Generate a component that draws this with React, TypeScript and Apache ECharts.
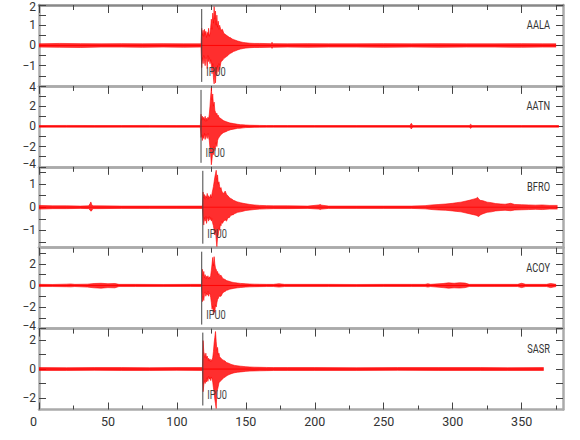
import React, { useEffect, useRef } from "react";
import * as echarts from "echarts";

// ---------- data ----------
const stations = ["AALA", "AATN", "BFRO", "ACOY", "SASR"];
const pickTimes = [118, 117.5, 118.8, 118, 118.8];
const pickLabel = "IPU0";

const xMax = 380;
const xLabelValues = [0, 50, 100, 150, 200, 250, 300, 350];
const xMajorTicks = [0, 50, 100, 150, 200, 250, 300, 350];
const xMinorTicks = [25, 75, 125, 175, 225, 275, 325, 375];

const yMins = [-2, -4, -1.75, -4, -2.8];
const yMaxs = [2, 4, 1.75, 3.5, 2.8];
const yTickValues = [
  [-2, -1.5, -1, -0.5, 0, 0.5, 1, 1.5, 2],
  [-4, -3, -2, -1, 0, 1, 2, 3, 4],
  [-1.5, -1, -0.5, 0, 0.5, 1, 1.5],
  [-4, -3, -2, -1, 0, 1, 2, 3],
  [-2, -1, 0, 1, 2],
];
const yLabelValues = [
  [-1, 0, 1, 2],
  [-4, -2, 0, 2, 4],
  [-1, 0, 1],
  [-4, -2, 0, 2],
  [-2, 0, 2],
];

// AALA envelope (time s, upper, lower)
const aalaT = [0, 15, 30, 45, 60, 75, 90, 105, 117.5,
  118, 118.5, 119, 119.5, 120, 120.5, 121, 121.5, 122, 122.5, 123, 123.5, 124, 124.5, 125, 125.5, 126, 126.5, 127, 127.5, 128, 128.5, 129, 129.5, 130, 130.5, 131,
  132, 133, 134, 135, 136, 137, 138, 139, 140, 141, 142,
  144, 146, 148, 150,
  153, 156, 160, 168, 169, 170, 180,
  195, 210, 230, 250, 270, 290, 310, 330, 350, 365, 375];
const aalaUp = [0.08, 0.1, 0.09, 0.08, 0.09, 0.08, 0.09, 0.08, 0.08,
  0.85, 0.5, 0.75, 0.45, 0.8, 0.55, 0.7, 0.4, 0.65, 0.5, 0.85, 0.45, 0.6, 0.9, 1.3, 0.8, 1.6, 1.1, 1.92, 1.3, 1.7, 1.0, 1.5, 0.9, 1.2, 0.8, 1.0,
  0.75, 0.8, 0.6, 0.55, 0.5, 0.45, 0.4, 0.38, 0.32, 0.3, 0.27,
  0.22, 0.18, 0.15, 0.13,
  0.11, 0.1, 0.1, 0.09, 0.15, 0.09, 0.08,
  0.09, 0.08, 0.08, 0.09, 0.08, 0.09, 0.08, 0.08, 0.09, 0.08, 0.08];
const aalaDn = [-0.08, -0.09, -0.1, -0.08, -0.08, -0.09, -0.08, -0.09, -0.08,
  -1.1, -0.6, -0.9, -0.5, -0.8, -1.0, -0.6, -0.7, -1.15, -0.5, -0.8, -0.6, -0.9, -0.7, -1.0, -1.4, -0.9, -1.6, -1.9, -1.2, -1.85, -1.1, -1.5, -1.0, -1.3, -0.9, -1.2,
  -0.8, -0.75, -0.65, -0.6, -0.55, -0.5, -0.42, -0.38, -0.35, -0.3, -0.28,
  -0.22, -0.18, -0.15, -0.13,
  -0.11, -0.1, -0.1, -0.09, -0.14, -0.09, -0.08,
  -0.09, -0.08, -0.08, -0.09, -0.08, -0.09, -0.08, -0.08, -0.09, -0.08, -0.08];

// AATN
const aatnT = [0, 20, 40, 60, 80, 100, 117,
  117.5, 118, 118.5, 119, 119.5, 120, 120.5, 121, 121.5, 122, 122.5, 123, 123.5, 124, 124.5, 125, 125.5, 126, 126.5, 127, 127.5, 128, 128.5, 129, 129.5, 130, 130.5, 131,
  132, 133, 134, 135, 136, 137, 138, 139, 140, 141, 142,
  144, 146, 148, 150, 153, 156, 160, 165, 170, 180,
  200, 230, 269, 270, 271, 312, 313, 314, 330, 350, 377];
const aatnUp = [0.08, 0.09, 0.08, 0.08, 0.09, 0.08, 0.08,
  1.2, 0.6, 1.0, 0.7, 0.9, 0.6, 1.0, 0.5, 0.8, 0.6, 0.9, 0.7, 1.2, 2.0, 3.0, 3.8, 2.6, 3.2, 2.0, 2.4, 1.6, 1.4, 1.2, 1.3, 1.0, 1.1, 0.9, 0.85,
  0.75, 0.65, 0.55, 0.5, 0.45, 0.4, 0.35, 0.32, 0.3, 0.27, 0.25,
  0.2, 0.17, 0.15, 0.13, 0.11, 0.1, 0.09, 0.08, 0.08, 0.08,
  0.08, 0.08, 0.08, 0.3, 0.08, 0.08, 0.2, 0.08, 0.08, 0.08, 0.08];
const aatnDn = [-0.08, -0.08, -0.09, -0.08, -0.08, -0.09, -0.08,
  -1.1, -0.8, -1.4, -0.9, -1.2, -0.7, -1.3, -0.8, -1.0, -1.2, -0.7, -1.1, -1.4, -2.2, -2.8, -3.8, -3.2, -2.5, -2.8, -2.0, -2.4, -2.1, -1.6, -2.0, -1.4, -1.2, -1.1, -1.0,
  -0.8, -0.7, -0.6, -0.55, -0.5, -0.42, -0.38, -0.33, -0.3, -0.28, -0.25,
  -0.2, -0.18, -0.15, -0.12, -0.11, -0.1, -0.09, -0.08, -0.08, -0.08,
  -0.08, -0.08, -0.08, -0.25, -0.08, -0.08, -0.2, -0.08, -0.08, -0.08, -0.08];

// BFRO
const bfroT = [0, 10, 20, 30, 36, 37, 37.6, 38.2, 39, 42, 60, 80, 100, 118.5,
  119, 119.5, 120, 120.5, 121, 121.5, 122, 122.5, 123, 123.5, 124, 124.5, 125, 125.5, 126, 126.5, 127, 127.5, 128, 128.5, 129, 129.5, 130, 130.5, 131, 131.5, 132, 132.5, 133,
  134, 135, 136, 137, 138, 139, 140, 141, 142, 143, 144,
  146, 148, 150, 153, 156, 160, 165, 170, 180, 195, 203, 204, 205, 210, 230, 250, 270,
  280, 285, 290, 295, 300, 303, 306, 309, 312, 315, 317, 318, 319, 320, 322, 325, 328, 331, 335, 338, 342, 345, 350, 355, 360, 365, 370, 376];
const bfroUp = [0.08, 0.06, 0.06, 0.05, 0.06, 0.15, 0.23, 0.12, 0.06, 0.06, 0.05, 0.05, 0.05, 0.05,
  0.66, 0.4, 0.55, 0.35, 0.5, 0.4, 0.6, 0.35, 0.5, 0.4, 0.45, 0.55, 0.4, 0.6, 0.75, 0.9, 1.1, 1.3, 1.45, 1.6, 1.2, 1.4, 1.0, 1.1, 0.9, 0.8, 0.85, 0.7, 0.65,
  0.6, 0.7, 0.55, 0.5, 0.42, 0.38, 0.35, 0.3, 0.28, 0.25, 0.23,
  0.2, 0.17, 0.15, 0.12, 0.1, 0.08, 0.07, 0.06, 0.06, 0.05, 0.1, 0.12, 0.09, 0.05, 0.05, 0.05, 0.05,
  0.07, 0.1, 0.12, 0.14, 0.17, 0.2, 0.22, 0.26, 0.3, 0.35, 0.38, 0.43, 0.35, 0.3, 0.28, 0.22, 0.2, 0.16, 0.14, 0.13, 0.17, 0.12, 0.11, 0.1, 0.09, 0.1, 0.08, 0.08];
const bfroDn = [-0.08, -0.06, -0.06, -0.05, -0.06, -0.12, -0.17, -0.15, -0.06, -0.06, -0.05, -0.05, -0.05, -0.05,
  -0.5, -0.77, -0.45, -0.6, -0.4, -0.7, -0.5, -0.45, -0.6, -0.4, -0.55, -0.45, -0.6, -0.5, -0.7, -0.8, -1.0, -1.2, -1.0, -1.4, -1.7, -1.3, -1.2, -0.9, -1.0, -0.75, -0.8, -0.6, -0.7,
  -0.6, -0.55, -0.6, -0.45, -0.45, -0.36, -0.33, -0.32, -0.27, -0.25, -0.22,
  -0.2, -0.17, -0.14, -0.12, -0.1, -0.08, -0.07, -0.06, -0.06, -0.05, -0.08, -0.1, -0.08, -0.05, -0.05, -0.05, -0.05,
  -0.07, -0.1, -0.12, -0.13, -0.16, -0.18, -0.2, -0.24, -0.28, -0.32, -0.35, -0.38, -0.4, -0.33, -0.28, -0.22, -0.2, -0.16, -0.14, -0.13, -0.15, -0.12, -0.11, -0.1, -0.09, -0.1, -0.08, -0.08];

// ACOY
const acoyT = [0, 10, 20, 23, 26, 35, 40, 45, 50, 55, 58, 70, 90, 110, 118,
  118.5, 119, 119.5, 120, 120.5, 121, 121.5, 122, 122.5, 123, 123.5, 124, 124.5, 125, 125.5, 126, 126.5, 127, 127.5, 128, 128.5, 129, 129.5, 130, 130.5, 131,
  132, 133, 134, 135, 136, 137, 138, 139, 140, 141, 142,
  144, 146, 148, 150, 153, 156, 160, 165, 170, 174, 178, 190, 210, 230, 250, 270, 280, 282, 284, 293, 297, 301, 305, 309, 312, 330, 347, 350, 353, 368, 371, 375];
const acoyUp = [0.1, 0.09, 0.12, 0.14, 0.1, 0.12, 0.18, 0.2, 0.16, 0.18, 0.1, 0.1, 0.09, 0.1, 0.1,
  1.5, 0.9, 1.3, 0.7, 1.0, 0.6, 0.85, 0.7, 0.9, 0.6, 0.8, 0.65, 0.9, 1.4, 2.0, 2.6, 1.8, 2.67, 2.0, 1.6, 1.5, 1.2, 1.3, 1.0, 1.1, 0.9,
  0.95, 0.7, 0.6, 0.55, 0.45, 0.42, 0.38, 0.34, 0.3, 0.28, 0.26,
  0.22, 0.19, 0.17, 0.15, 0.13, 0.12, 0.11, 0.1, 0.1, 0.16, 0.1, 0.1, 0.1, 0.09, 0.1, 0.1, 0.1, 0.16, 0.1, 0.18, 0.24, 0.2, 0.25, 0.22, 0.1, 0.1, 0.1, 0.2, 0.1, 0.1, 0.18, 0.1];
const acoyDn = [-0.1, -0.1, -0.12, -0.13, -0.1, -0.15, -0.22, -0.25, -0.2, -0.22, -0.1, -0.1, -0.1, -0.09, -0.1,
  -1.5, -1.0, -1.4, -0.8, -0.6, -1.0, -0.7, -0.9, -0.55, -1.0, -0.7, -0.8, -1.1, -1.6, -2.2, -1.9, -2.7, -2.3, -2.5, -1.8, -2.0, -1.6, -1.3, -1.2, -1.0, -1.0,
  -1.0, -0.75, -0.6, -0.55, -0.45, -0.42, -0.36, -0.33, -0.3, -0.28, -0.25,
  -0.22, -0.19, -0.17, -0.15, -0.13, -0.12, -0.11, -0.1, -0.1, -0.15, -0.1, -0.1, -0.1, -0.1, -0.09, -0.1, -0.1, -0.15, -0.1, -0.2, -0.25, -0.22, -0.24, -0.2, -0.1, -0.1, -0.1, -0.2, -0.1, -0.1, -0.2, -0.1];

// SASR
const sasrT = [0, 20, 40, 60, 80, 100, 118.5,
  119, 119.5, 120, 120.5, 121, 121.5, 122, 122.5, 123, 123.5, 124, 124.5, 125, 125.5, 126, 126.5, 127, 127.5, 128, 128.5, 129, 129.5, 130, 130.5, 131, 131.5, 132,
  133, 134, 135, 136, 137, 138, 139, 140, 141, 142, 144, 146, 148, 150, 153, 156, 160, 165, 170, 180,
  200, 230, 260, 290, 320, 340, 366];
const sasrUp = [0.1, 0.09, 0.1, 0.1, 0.09, 0.1, 0.1,
  1.97, 1.2, 1.0, 0.8, 1.1, 0.75, 0.9, 0.6, 0.75, 0.55, 0.7, 0.5, 0.65, 0.6, 0.8, 1.2, 1.8, 2.2, 2.6, 1.9, 1.3, 1.5, 1.0, 1.1, 0.85, 0.8, 0.75,
  0.65, 0.6, 0.55, 0.45, 0.42, 0.38, 0.34, 0.3, 0.28, 0.25, 0.22, 0.2, 0.18, 0.16, 0.14, 0.13, 0.12, 0.11, 0.1, 0.1,
  0.1, 0.09, 0.1, 0.1, 0.1, 0.09, 0.1];
const sasrDn = [-0.1, -0.1, -0.09, -0.1, -0.1, -0.09, -0.1,
  -1.57, -1.1, -0.8, -1.0, -0.76, -0.9, -0.6, -0.85, -0.5, -0.7, -0.6, -0.8, -0.55, -0.7, -0.9, -1.3, -1.6, -2.1, -2.4, -2.73, -1.6, -1.4, -1.2, -0.95, -0.9, -0.85, -0.8,
  -0.7, -0.6, -0.55, -0.48, -0.42, -0.38, -0.34, -0.3, -0.28, -0.25, -0.22, -0.2, -0.18, -0.16, -0.14, -0.13, -0.12, -0.11, -0.1, -0.1,
  -0.1, -0.1, -0.09, -0.1, -0.1, -0.1, -0.1];

const traceTimes = [aalaT, aatnT, bfroT, acoyT, sasrT];
const traceUp = [aalaUp, aatnUp, bfroUp, acoyUp, sasrUp];
const traceDn = [aalaDn, aatnDn, bfroDn, acoyDn, sasrDn];

// ---------- layout / style ----------
const W = 580;
const H = 440;
const GRID_LEFT = 39;
const GRID_RIGHT = 17;
const GRID_TOP = 5;
const PANEL_H = 80.9;
const FONT = "Roboto, 'Liberation Sans', sans-serif";
const FRAME = "#aaaaaa";
const TICK = "#444444";
const RED = "#ff0000";
const TEXT = "#333333";
const NARROW = 0.74;
const Y_FONT = 12;

const minus = (v: number) => (v < 0 ? "\u2212" + Math.abs(v) : String(v));
const zip = (t: number[], v: number[]) => t.map((x, k) => [x, v[k]]);

function buildOption() {
  const grid: any[] = [];
  const xAxis: any[] = [];
  const yAxis: any[] = [];
  const series: any[] = [];
  const graphic: any[] = [];

  stations.forEach((name, i) => {
    const top = GRID_TOP + i * PANEL_H;
    const last = i === stations.length - 1;
    grid.push({ left: GRID_LEFT, right: GRID_RIGHT, top, height: PANEL_H, containLabel: false });

    const xBase = { gridIndex: i, type: "value", min: 0, max: xMax, splitLine: { show: false } };
    // 4 x axes per grid: bottom main, bottom minor, top major, top minor
    xAxis.push({
      ...xBase,
      position: "bottom",
      axisLine: { show: true, onZero: false, lineStyle: { color: FRAME, width: 2.5 } },
      axisTick: { show: last, inside: true, length: 7, customValues: xMajorTicks, lineStyle: { color: TICK, width: 1 } },
      axisLabel: {
        show: last,
        customValues: xLabelValues,
        margin: 5,
        color: TEXT,
        fontSize: 12.5,
        fontFamily: FONT,
        formatter: (v: number) => (v === 0 ? "{z|0}" : String(v)),
        rich: { z: { padding: [0, 11, 0, 0], fontSize: 12.5, fontFamily: FONT, color: TEXT } },
      },
    });
    xAxis.push({
      ...xBase,
      position: "bottom",
      axisLine: { show: false, onZero: false },
      axisTick: { show: last, inside: true, length: 4, customValues: xMinorTicks, lineStyle: { color: TICK, width: 1 } },
      axisLabel: { show: false },
    });
    xAxis.push({
      ...xBase,
      position: "top",
      axisLine: { show: true, onZero: false, lineStyle: { color: i === 0 ? "#888888" : FRAME, width: 2.5 } },
      axisTick: { show: true, inside: true, length: 8, customValues: xMajorTicks, lineStyle: { color: TICK, width: 1 } },
      axisLabel: { show: false },
    });
    xAxis.push({
      ...xBase,
      position: "top",
      axisLine: { show: false, onZero: false },
      axisTick: { show: true, inside: true, length: 5, customValues: xMinorTicks, lineStyle: { color: TICK, width: 1 } },
      axisLabel: { show: false },
    });

    const yBase = { gridIndex: i, type: "value", min: yMins[i], max: yMaxs[i], splitLine: { show: false } };
    const yMinLab = yLabelValues[i][0];
    const yMaxLab = yLabelValues[i][yLabelValues[i].length - 1];
    yAxis.push({
      ...yBase,
      position: "left",
      axisLine: { show: true, onZero: false, lineStyle: { color: FRAME, width: 2.5 } },
      axisTick: { show: true, inside: true, length: 7, customValues: yTickValues[i], lineStyle: { color: TICK, width: 1 } },
      axisLabel: {
        show: true,
        customValues: yLabelValues[i],
        margin: 3,
        color: TEXT,
        fontSize: Y_FONT,
        fontFamily: FONT,
        formatter: (v: number) => {
          // lift labels sitting on a panel's bottom edge, lower those on its top edge
          if (v === yMinLab && v === yMins[i]) return "{lo|" + minus(v) + "}";
          if (v === yMaxLab && v === yMaxs[i]) return "{hi|" + minus(v) + "}";
          return minus(v);
        },
        rich: {
          lo: { fontSize: Y_FONT, fontFamily: FONT, color: TEXT, padding: [0, 0, 5, 0] },
          hi: { fontSize: Y_FONT, fontFamily: FONT, color: TEXT, padding: [3, 0, 0, 0] },
        },
      },
    });
    yAxis.push({
      ...yBase,
      position: "right",
      axisLine: { show: true, onZero: false, lineStyle: { color: FRAME, width: 2.5 } },
      axisTick: { show: true, inside: true, length: 7, customValues: yTickValues[i], lineStyle: { color: TICK, width: 1 } },
      axisLabel: { show: false },
    });

    const xi = i * 4;
    const yi = i * 2;
    const range = yMaxs[i] - yMins[i];
    const wave = {
      type: "line",
      xAxisIndex: xi,
      yAxisIndex: yi,
      symbol: "none",
      silent: true,
      lineStyle: { color: RED, width: 0.6 },
      areaStyle: { color: RED, opacity: 0.82 },
      z: 2,
    };
    const times = traceTimes[i];
    series.push({ ...wave, data: zip(times, traceUp[i]) });
    series.push({ ...wave, data: zip(times, traceDn[i]) });
    // trace centre line (zero level of the seismogram)
    series.push({
      type: "line",
      xAxisIndex: xi,
      yAxisIndex: yi,
      symbol: "none",
      silent: true,
      z: 3,
      lineStyle: { color: RED, width: 1 },
      data: [[times[0], 0], [times[times.length - 1], 0]],
    });

    const p = pickTimes[i];
    series.push({
      type: "line",
      xAxisIndex: xi,
      yAxisIndex: yi,
      symbol: "none",
      silent: true,
      z: 5,
      lineStyle: { color: "#444444", width: 1 },
      data: [
        [p, yMaxs[i] - (4 / PANEL_H) * range],
        [p, yMins[i] + (4 / PANEL_H) * range],
      ],
    });

    graphic.push({
      type: "text",
      x: 550,
      y: top + 20,
      scaleX: NARROW,
      z: 10,
      style: {
        text: name,
        align: "right",
        verticalAlign: "middle",
        fill: TEXT,
        fontSize: 12.5,
        fontFamily: FONT,
      },
    });
  });

  return { animation: false, backgroundColor: "#ffffff", grid, xAxis, yAxis, series, graphic };
}

export default function App() {
  const ref = useRef<HTMLDivElement>(null);
  useEffect(() => {
    if (!ref.current) return;
    const chart = echarts.init(ref.current, undefined, { renderer: "svg", width: W, height: H });
    const option: any = buildOption();
    chart.setOption(option);
    // pick labels, placed through each panel's scales
    const pickGraphics = stations.map((_, i) => {
      const range = yMaxs[i] - yMins[i];
      const pt = chart.convertToPixel({ gridIndex: i } as any, [pickTimes[i], yMins[i] + (14 / PANEL_H) * range]) as number[];
      return {
        type: "text",
        x: pt[0] + 4.5,
        y: pt[1],
        scaleX: NARROW,
        z: 10,
        style: {
          text: pickLabel,
          align: "left",
          verticalAlign: "middle",
          fill: "#444444",
          fontSize: 12.5,
          fontFamily: FONT,
        },
      };
    });
    chart.setOption({ graphic: [...option.graphic, ...pickGraphics] });
    return () => chart.dispose();
  }, []);
  return <div ref={ref} style={{ position: "fixed", left: 0, top: 0, width: W, height: H, background: "#fff" }} />;
}
